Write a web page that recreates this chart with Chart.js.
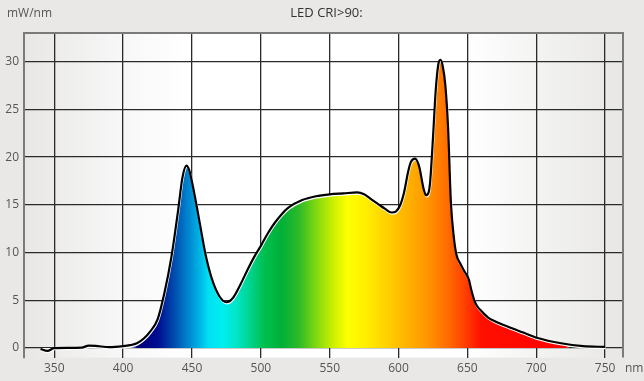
<!DOCTYPE html>
<html>
<head>
<meta charset="utf-8">
<script src="https://cdn.jsdelivr.net/npm/chart.js@4"></script>
<style>
  html, body { margin: 0; padding: 0; background: #e9e8e6; }
  #wrap { width: 644px; height: 381px; }
</style>
</head>
<body>
<div id="wrap"><canvas id="spectrumChart"></canvas></div>
<script>
// spectrum readings (nm, mW/nm)
var wavelengths = [340, 345, 350, 360, 370, 375, 380, 390, 400, 405, 410, 415, 420, 425, 430, 435, 440, 443, 446, 448,
  450, 453, 456, 460, 465, 470, 475, 480, 485, 490, 495, 500, 505, 510, 515, 520, 530, 540, 550, 560, 570,
  575, 580, 585, 590, 595, 598, 601, 604, 607, 609, 612, 615, 618, 620, 622, 623, 625, 627, 629, 630.5,
  632, 634, 636, 638, 640, 642, 645, 648, 651, 653, 655, 657, 660, 665, 670, 680, 690, 701, 718, 734, 750];
var power = [-0.1, -0.3, 0, 0.02, 0.05, 0.25, 0.22, 0.1, 0.2, 0.3, 0.5, 1.0, 1.8, 3.0, 5.8, 9.5, 14.5, 17.8, 19.1, 18.6,
  17.4, 15.2, 12.8, 9.7, 7.0, 5.4, 4.8, 5.3, 6.6, 8.1, 9.5, 10.7, 12.0, 13.1, 14.0, 14.7, 15.5, 15.9, 16.1, 16.2, 16.3,
  16.1, 15.6, 15.1, 14.6, 14.2, 14.3, 14.9, 16.3, 18.5, 19.5, 19.85, 19.0, 16.8, 16.0, 16.4, 17.5, 22.0, 27.0, 29.8, 30.2,
  29.6, 27.5, 23.0, 15.3, 11.8, 9.8, 8.8, 8.0, 7.2, 6.0, 5.0, 4.4, 3.9, 3.2, 2.8, 2.2, 1.65, 1.05, 0.5, 0.2, 0.12];

var xTicks = [350, 400, 450, 500, 550, 600, 650, 700, 750];
var yTicks = [0, 5, 10, 15, 20, 25, 30];

// colour of the fill at each wavelength
var spectrumNm = [404, 410, 425, 435, 445, 455, 462, 472, 482, 492, 502, 515, 528, 540, 552, 563, 575, 590, 605, 620, 635, 648, 660, 722, 724];
var spectrumColors = ['#ffffff', '#00007a', '#000c90', '#0040a8', '#0078c8', '#00b0e4', '#00e0f2', '#00eef0', '#00e6c8', '#00d490',
  '#00c050', '#00b038', '#30ba28', '#80d810', '#c8ee00', '#ffff00', '#fff000', '#ffd400', '#ffb400', '#ff9800',
  '#ff6e00', '#ff4000', '#ff1000', '#ff0000', 'rgba(255,255,255,0)'];

var points = wavelengths.map(function(w, i) { return { x: w, y: power[i] }; });

function spectrumFill(context) {
  var chart = context.chart;
  var area = chart.chartArea;
  if (!area) return '#ff0000';
  var xs = chart.scales.x;
  var x0 = xs.getPixelForValue(spectrumNm[0]);
  var x1 = xs.getPixelForValue(spectrumNm[spectrumNm.length - 1]);
  var g = chart.ctx.createLinearGradient(x0, 0, x1, 0);
  spectrumNm.forEach(function(nm, i) {
    g.addColorStop((nm - spectrumNm[0]) / (spectrumNm[spectrumNm.length - 1] - spectrumNm[0]), spectrumColors[i]);
  });
  return g;
}

var framePlugin = {
  id: 'frame',
  beforeDraw: function(chart) {
    var a = chart.chartArea, ctx = chart.ctx;
    var g = ctx.createLinearGradient(a.left, 0, a.right, 0);
    g.addColorStop(0, '#e8e7e5');
    g.addColorStop(0.16, '#f7f7f7');
    g.addColorStop(0.28, '#ffffff');
    g.addColorStop(0.74, '#ffffff');
    g.addColorStop(0.88, '#f1f1f0');
    g.addColorStop(1, '#e8e7e5');
    ctx.save();
    ctx.fillStyle = g;
    ctx.fillRect(a.left, a.top, a.right - a.left, a.bottom - a.top);
    ctx.restore();
  },
  beforeDatasetDraw: function(chart, args) {
    if (args.index === 0) {
      chart.ctx.save();
      chart.ctx.translate(0.5, 1.3);
    }
  },
  afterDatasetDraw: function(chart, args) {
    if (args.index === 0) chart.ctx.restore();
  },
  afterDraw: function(chart) {
    var a = chart.chartArea, ctx = chart.ctx;
    ctx.save();
    ctx.strokeStyle = '#7a7a7a';
    ctx.lineWidth = 2;
    ctx.beginPath();
    ctx.moveTo(a.left, a.top);
    ctx.lineTo(a.right, a.top);
    ctx.lineTo(a.right, a.bottom);
    ctx.stroke();
    ctx.font = '12px "Open Sans"';
    ctx.fillStyle = '#555';
    ctx.textBaseline = 'middle';
    ctx.textAlign = 'left';
    ctx.fillText('mW/nm', 7, 14);
    ctx.fillText('nm', a.right + 2, 369);
    ctx.fillStyle = '#333';
    ctx.font = '13px "Open Sans"';
    ctx.textAlign = 'center';
    ctx.fillText('LED CRI>90:', (a.left + a.right) / 2 + 3, 13);
    ctx.restore();
  }
};

var chart = new Chart(document.getElementById('spectrumChart'), {
  type: 'line',
  data: {
    datasets: [{
      data: points,
      fill: 'origin',
      backgroundColor: spectrumFill,
      borderColor: '#ffffff',
      borderWidth: 2,
      pointRadius: 0,
      order: 2,
      cubicInterpolationMode: 'monotone'
    }, {
      data: points,
      fill: false,
      borderColor: '#000000',
      borderWidth: 2.2,
      pointRadius: 0,
      order: 1,
      cubicInterpolationMode: 'monotone'
    }]
  },
  plugins: [framePlugin],
  options: {
    responsive: true,
    maintainAspectRatio: false,
    animation: false,
    layout: { padding: { top: 33, right: 21, left: 0, bottom: 0 } },
    plugins: { legend: { display: false }, tooltip: { enabled: false }, title: { display: false } },
    scales: {
      x: {
        type: 'linear',
        min: 328,
        max: 763,
        z: 1,
        afterBuildTicks: function(scale) { scale.ticks = xTicks.map(function(v) { return { value: v }; }); },
        afterFit: function(scale) { scale.height = 23.4; },
        grid: { color: '#2a2a2a', lineWidth: 1.3, drawTicks: false },
        border: { display: false },
        ticks: { padding: 4, maxRotation: 0, color: '#555', font: { family: 'Open Sans', size: 12 } }
      },
      y: {
        min: -1,
        max: 33,
        z: 1,
        afterBuildTicks: function(scale) { scale.ticks = yTicks.map(function(v) { return { value: v }; }); },
        afterFit: function(scale) { scale.width = 24; },
        grid: { color: '#2a2a2a', lineWidth: 1.3, drawTicks: false },
        border: { display: true, color: '#7a7a7a', width: 2 },
        ticks: { padding: 5, color: '#555', font: { family: 'Open Sans', size: 12 } }
      }
    }
  }
});
</script>
</body>
</html>
